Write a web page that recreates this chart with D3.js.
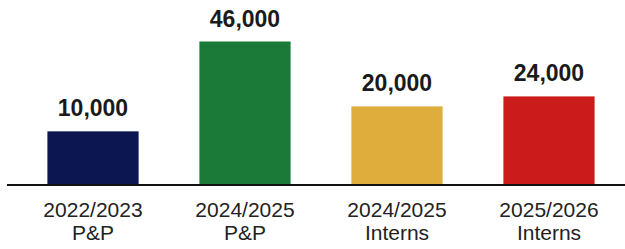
<!DOCTYPE html>
<html>
<head>
<meta charset="utf-8">
<script src="https://cdn.jsdelivr.net/npm/d3@7"></script>
<style>
  html, body { margin: 0; padding: 0; background: #ffffff; }
  svg { display: block; }
</style>
</head>
<body>
<svg id="chart" width="625" height="249"></svg>
<script>
// ---- data ----
const categoryYears = ["2022/2023", "2024/2025", "2024/2025", "2025/2026"];
const categoryKinds = ["P&P", "P&P", "Interns", "Interns"];
const values = [10000, 46000, 20000, 24000];
const barColors = ["#0c1752", "#1b7a38", "#dfad3b", "#cb1b1b"];

// ---- layout ----
const W = 625, H = 249;
const baseY = 185;
const svg = d3.select("#chart");

const keys = values.map((d, i) => i);
const x = d3.scaleBand().domain(keys).range([17, 625]).paddingInner(0.4).paddingOuter(0.2);
const y = d3.scaleLinear().domain([-11500, 46000]).range([baseY, 41.5]);

// bars
svg.append("g").selectAll("rect").data(values).join("rect")
  .attr("x", (d, i) => x(i))
  .attr("width", x.bandwidth())
  .attr("y", d => y(d))
  .attr("height", d => baseY - y(d))
  .attr("fill", (d, i) => barColors[i]);

// baseline
svg.append("line")
  .attr("x1", 7).attr("x2", W)
  .attr("y1", baseY).attr("y2", baseY)
  .attr("stroke", "#111").attr("stroke-width", 2);

// value labels
const fmt = d3.format(",");
svg.append("g").selectAll("text").data(values).join("text")
  .attr("x", (d, i) => x(i) + x.bandwidth() / 2)
  .attr("y", d => y(d) - 15)
  .attr("text-anchor", "middle")
  .attr("font-family", "'Liberation Sans', Arial, sans-serif")
  .attr("font-weight", "bold")
  .attr("font-size", 23)
  .attr("fill", "#1a1a1a")
  .text(d => fmt(d));

// category labels
const xAxis = svg.append("g");
keys.forEach(i => {
  const cx = x(i) + x.bandwidth() / 2;
  const t = xAxis.append("text")
    .attr("x", cx)
    .attr("y", 217)
    .attr("text-anchor", "middle")
    .attr("font-family", "'Liberation Sans', Arial, sans-serif")
    .attr("font-size", 21)
    .attr("fill", "#222");
  t.append("tspan").attr("x", cx).attr("dy", 0).text(categoryYears[i]);
  t.append("tspan").attr("x", cx).attr("dy", 23).text(categoryKinds[i]);
});
</script>
</body>
</html>
